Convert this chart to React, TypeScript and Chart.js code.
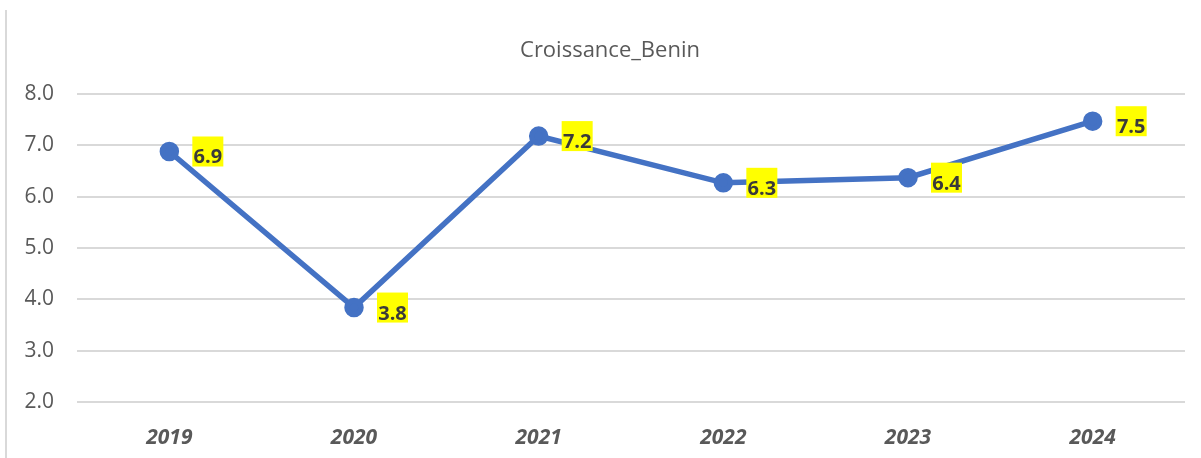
import React, { useEffect, useRef } from "react";
import { Chart, registerables } from "chart.js";

Chart.register(...registerables);

const categories = ["2019", "2020", "2021", "2022", "2023", "2024"];
const growth = [6.88, 3.84, 7.18, 6.27, 6.37, 7.47];
const chartTitle = "Croissance_Benin";
const yMin = 2;
const yMax = 8;

const FONT = "'Open Sans', 'Noto Sans', sans-serif";

const decorPlugin = {
  id: "decor",
  beforeDraw(chart: any) {
    const ctx = chart.ctx;
    ctx.save();
    ctx.fillStyle = "#ffffff";
    ctx.fillRect(0, 0, chart.width, chart.height);
    ctx.strokeStyle = "#d9d9d9";
    ctx.lineWidth = 2;
    ctx.beginPath();
    ctx.moveTo(6, 10);
    ctx.lineTo(6, chart.height);
    ctx.stroke();
    ctx.fillStyle = "#595959";
    ctx.font = `22px ${FONT}`;
    ctx.textAlign = "center";
    ctx.textBaseline = "middle";
    ctx.fillText(chartTitle, 610, 51);
    ctx.restore();
  },
  afterDatasetsDraw(chart: any) {
    const ctx = chart.ctx;
    const meta = chart.getDatasetMeta(0);
    ctx.save();
    ctx.font = `bold 20px ${FONT}`;
    ctx.textAlign = "center";
    ctx.textBaseline = "alphabetic";
    meta.data.forEach((pt: any, i: number) => {
      const txt = growth[i].toFixed(1);
      const w = 31;
      const bx = pt.x + 23;
      const by = pt.y - 15;
      ctx.fillStyle = "#ffff00";
      ctx.fillRect(bx, by, w, 30);
      ctx.fillStyle = "#3a3a3a";
      ctx.fillText(txt, bx + w / 2, by + 27);
    });
    ctx.restore();
  },
};

export default function App() {
  const ref = useRef<HTMLCanvasElement | null>(null);
  useEffect(() => {
    document.body.style.margin = "0";
    const chart = new Chart(ref.current!, {
      type: "line",
      data: {
        labels: categories,
        datasets: [
          {
            label: chartTitle,
            data: growth,
            borderColor: "#4472C4",
            backgroundColor: "#4472C4",
            borderWidth: 5.5,
            pointRadius: 7,
            pointBackgroundColor: "#4472C4",
            pointBorderColor: "#4472C4",
            tension: 0,
          },
        ],
      },
      options: {
        responsive: false,
        animation: false,
        layout: { padding: { top: 94, right: 16, bottom: 0, left: 0 } },
        plugins: {
          legend: { display: false },
          title: { display: false },
          tooltip: { enabled: false },
        },
        scales: {
          x: {
            offset: true,
            grid: { display: false, drawTicks: false },
            border: { display: false },
            afterFit(scale: any) {
              scale.height = 56;
            },
            ticks: {
              color: "#595959",
              padding: 23,
              font: { family: FONT, size: 21, weight: "bold", style: "italic" },
            },
          },
          y: {
            min: yMin,
            max: yMax,
            grid: { color: "#d9d9d9", lineWidth: 2, drawTicks: false },
            border: { display: false },
            afterFit(scale: any) {
              scale.width = 77;
            },
            ticks: {
              stepSize: 1,
              color: "#595959",
              padding: 23,
              font: { family: FONT, size: 21 },
              callback: (v: any) => Number(v).toFixed(1),
            },
          },
        },
      },
      plugins: [decorPlugin],
    });
    return () => chart.destroy();
  }, []);
  return (
    <div style={{ width: 1201, height: 458 }}>
      <canvas ref={ref} width={1201} height={458} style={{ display: "block" }} />
    </div>
  );
}
